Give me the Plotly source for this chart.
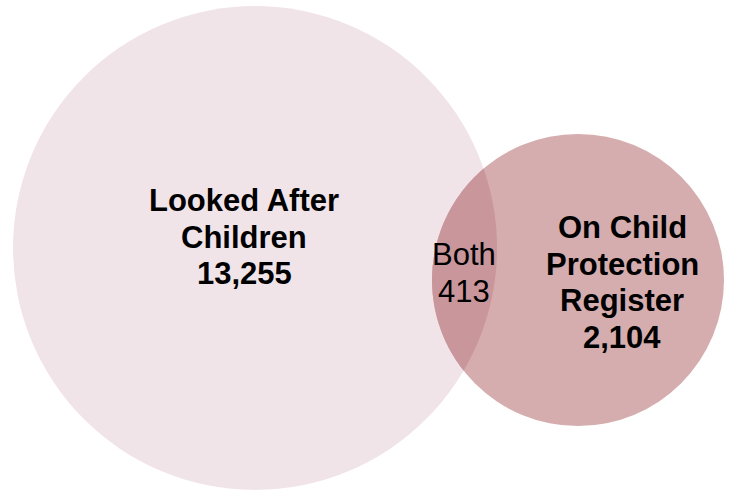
import numpy as np
import plotly.graph_objects as go

# Set sizes
set_labels = [["Looked After", "Children"], ["On Child", "Protection", "Register"]]
set_counts = [13255, 2104]
overlap_label = "Both"
overlap_count = 413

# Circle geometry in pixel-like units (x right, y down)
circles = [
    dict(cx=255, cy=248, r=242, color="#F0E4E8"),
    dict(cx=578, cy=280, r=146, color="#D5ADAE"),
]
overlap_color = "#C9979B"
# (x centre, first baseline) of each label block; lines are LINE_GAP apart
label_pos = [(244, 209), (622, 236)]
overlap_pos = (464, 263)
LINE_GAP = 36.5
FS = 31

W, H = 734, 491
fig = go.Figure()

shapes = []
for c in circles:
    shapes.append(dict(type="circle", xref="x", yref="y",
                       x0=c["cx"] - c["r"], x1=c["cx"] + c["r"],
                       y0=c["cy"] - c["r"], y1=c["cy"] + c["r"],
                       fillcolor=c["color"], line=dict(width=0), layer="below"))

# Lens-shaped intersection of the two circles
a, b = circles
dx, dy = b["cx"] - a["cx"], b["cy"] - a["cy"]
d = np.hypot(dx, dy)
base = np.arctan2(dy, dx)
ang_a = np.arccos((d**2 + a["r"]**2 - b["r"]**2) / (2 * d * a["r"]))
ang_b = np.arccos((d**2 + b["r"]**2 - a["r"]**2) / (2 * d * b["r"]))
ta = np.linspace(base - ang_a, base + ang_a, 120)
tb = np.linspace(base + np.pi - ang_b, base + np.pi + ang_b, 120)
px = np.concatenate([a["cx"] + a["r"] * np.cos(ta), b["cx"] + b["r"] * np.cos(tb)])
py = np.concatenate([a["cy"] + a["r"] * np.sin(ta), b["cy"] + b["r"] * np.sin(tb)])
path = "M " + " L ".join(f"{x:.2f},{y:.2f}" for x, y in zip(px, py)) + " Z"
shapes.append(dict(type="path", xref="x", yref="y", path=path,
                   fillcolor=overlap_color, line=dict(width=0), layer="below"))

font = dict(family="Liberation Sans, Arial, sans-serif", size=FS, color="#000000")


def text_block(x, y0, lines, bold):
    out = []
    for i, line in enumerate(lines):
        txt = f"<b>{line}</b>" if bold else line
        out.append(dict(x=x, y=y0 + i * LINE_GAP - 0.26 * FS, xref="x", yref="y",
                        showarrow=False, text=txt, font=font,
                        xanchor="center", yanchor="middle", align="center"))
    return out


annotations = []
for (x, y), lab, n in zip(label_pos, set_labels, set_counts):
    annotations += text_block(x, y, lab + [f"{n:,}"], True)
annotations += text_block(overlap_pos[0], overlap_pos[1],
                          [overlap_label, f"{overlap_count:,}"], False)

fig.update_layout(
    width=W, height=H, margin=dict(l=0, r=0, t=0, b=0),
    paper_bgcolor="white", plot_bgcolor="white",
    xaxis=dict(range=[0, W], visible=False, fixedrange=True),
    yaxis=dict(range=[H, 0], visible=False, fixedrange=True),
    shapes=shapes, annotations=annotations, showlegend=False,
)
fig.write_html("out.html")
